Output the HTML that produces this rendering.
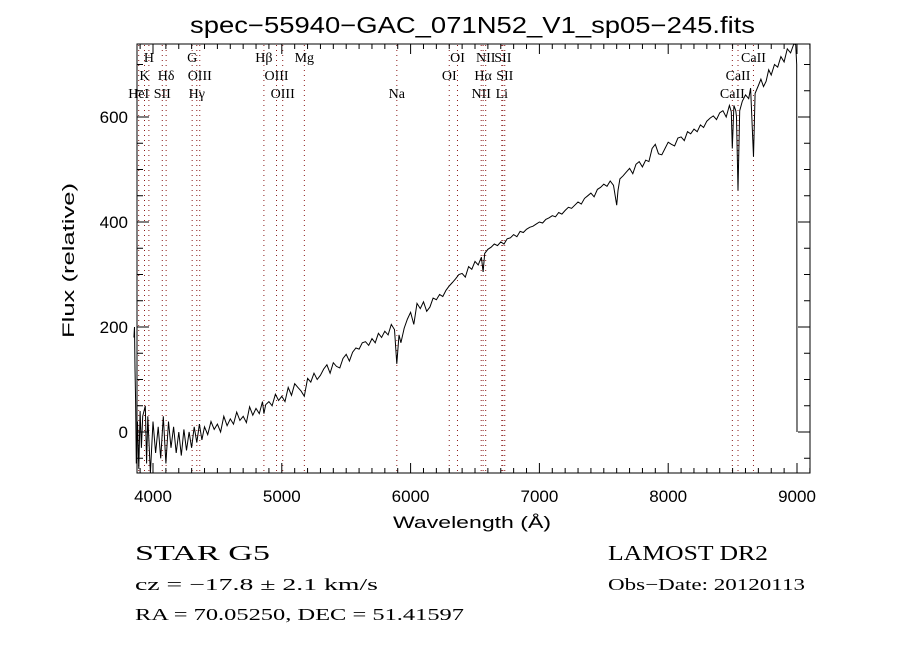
<!DOCTYPE html>
<html><head><meta charset="utf-8"><style>
body{margin:0;background:#fff;}
svg{display:block;}
.t{font-family:"Liberation Sans",sans-serif;fill:#000;}
.s{font-family:"Liberation Serif",serif;fill:#000;}
</style></head><body>
<svg id="chart" width="900" height="650" xmlns="http://www.w3.org/2000/svg">
<rect width="900" height="650" fill="#fff"/>
<text class="t" x="190" y="33" font-size="23" textLength="565" lengthAdjust="spacingAndGlyphs">spec−55940−GAC_071N52_V1_sp05−245.fits</text>
<g id="lines"></g>
<g id="labels"></g>
<path id="spec" fill="none" stroke="#000" stroke-width="1"/>
<rect x="137" y="44" width="673" height="429" fill="none" stroke="#000" stroke-width="1"/>
<g id="ticks" stroke="#000" stroke-width="1"></g>
<g id="ticklabels"></g>
<text class="t" x="393" y="528" font-size="17" textLength="158" lengthAdjust="spacingAndGlyphs">Wavelength (Å)</text>
<text class="t" transform="translate(74,338) rotate(-90)" font-size="17" textLength="155" lengthAdjust="spacingAndGlyphs">Flux (relative)</text>
<text class="s" x="135" y="560" font-size="21" textLength="135" lengthAdjust="spacingAndGlyphs">STAR    G5</text>
<text class="s" x="608" y="560" font-size="21" textLength="160" lengthAdjust="spacingAndGlyphs">LAMOST DR2</text>
<text class="s" x="135" y="590" font-size="17" textLength="243" lengthAdjust="spacingAndGlyphs">cz = −17.8 ± 2.1 km/s</text>
<text class="s" x="608" y="590" font-size="17" textLength="197" lengthAdjust="spacingAndGlyphs">Obs−Date: 20120113</text>
<text class="s" x="135" y="620" font-size="17" textLength="329" lengthAdjust="spacingAndGlyphs">RA =  70.05250, DEC =  51.41597</text>
</svg>
<script>
const wave=[3852,3856,3860,3865,3870,3880,3890,3900,3910,3920,3940,3950,3960,3980,4000,4020,4040,4060,4080,4100,4120,4140,4160,4180,4200,4220,4240,4260,4280,4300,4320,4340,4360,4380,
4400,4425,4450,4475,4500,4525,4550,4575,4600,4625,4650,4675,4700,4725,4750,4775,4800,4825,4850,4861,4875,4900,4925,4950,4975,5000,5025,5050,5075,5100,5125,5150,5175,5200,5225,5250,5275,5300,5325,5350,5375,5400,5425,5450,5475,5500,5525,5550,5575,5600,5625,5650,5675,5700,5725,5750,5775,5800,5825,5850,5875,5893,5910,5925,5950,5975,6000,6025,6050,6075,6100,6125,6150,6175,6200,6225,6250,6275,6300,6325,6350,6375,6400,6425,6450,6475,6500,6525,6550,6563,6575,6600,6625,6650,6675,6700,6725,6750,6775,6800,6825,6850,6875,6900,6925,6950,6975,7000,7025,7050,7075,7100,7125,7150,7175,7200,7225,7250,7275,7300,7325,7350,7375,7400,7425,7450,7475,7500,7525,7550,7575,7600,7610,7625,7650,7675,7700,7725,7750,7775,7800,7825,7850,7875,7900,7925,7950,7975,8000,8025,8050,8075,8100,8125,8150,8175,8200,8225,8250,8275,8300,8325,8350,8375,8400,8425,8450,8475,8490,8498,8510,8525,8530,8542,8555,8575,8600,8625,8640,8662,8675,8700,8720,8740,8760,8780,8800,8825,8850,8875,8900,8925,8950,8975,8990,8998,9000];
const flux=[180,200,120,60,-60,20,-70,40,-30,30,50,-60,30,-80,20,-40,10,-50,30,-60,20,-30,10,-40,0,-45,5,-35,0,-30,10,-20,15,-15,
10,-5,20,5,15,0,30,12,25,15,38,22,30,18,48,32,45,35,58,35,52,58,50,72,60,68,58,85,70,92,85,78,68,102,95,112,100,108,120,128,112,132,125,122,140,148,135,152,160,158,170,172,165,178,170,188,180,192,185,205,195,130,185,170,198,215,228,205,245,235,248,230,238,255,252,262,258,270,278,285,292,300,302,295,315,310,325,318,333,305,340,348,352,358,355,362,358,368,370,376,372,382,380,386,390,392,396,400,398,405,408,412,410,418,415,422,428,426,432,438,434,445,450,455,448,462,466,472,468,478,470,432,460,482,488,495,502,492,510,515,505,518,515,540,548,530,528,540,552,548,545,560,562,555,572,568,577,572,585,580,592,598,602,595,608,612,600,622,610,540,622,612,600,460,612,630,642,635,655,524,645,660,672,658,668,690,680,700,695,715,705,730,722,742,738,700,0];
const yTicks=[0,200,400,600];
const xTicks=[4000,5000,6000,7000,8000,9000];
const lineWave=[3889,3934,3968,4072,4102,4304,4340,4363,4861,4959,5007,5175,5893,6300,6364,6548,6563,6583,6708,6716,6731,8498,8542,8662];
const lineNames=["HeI","K","H","SII","Hδ","G","Hγ","OIII","Hβ","OIII","OIII","Mg","Na","OI","OI","NII","Hα","NII","Li","SII","SII","CaII","CaII","CaII"];
const lineRow=[3,2,1,3,2,1,3,2,1,2,3,1,3,2,1,3,2,1,3,1,2,3,2,1];
const X=w=>153+(w-4000)*0.1288;
const Y=f=>432-f*0.525;
const NS="http://www.w3.org/2000/svg";
function mk(tag,parent){const e=document.createElementNS(NS,tag);document.getElementById(parent).appendChild(e);return e;}
let d="";
for(let i=0;i<wave.length;i++){d+=(i?"L":"M")+X(wave[i]).toFixed(1)+" "+Math.min(473,Math.max(44,Y(flux[i]))).toFixed(1);}
document.getElementById("spec").setAttribute("d",d);
for(let i=0;i<lineWave.length;i++){
 const x=X(lineWave[i]);
 const l=mk("line","lines");
 
 
 l.setAttribute("x1",x);l.setAttribute("x2",x);l.setAttribute("y1",45);l.setAttribute("y2",472);
 l.setAttribute("stroke","#8b1a1a");l.setAttribute("stroke-width","1");l.setAttribute("stroke-dasharray","1 4");
 const t=mk("text","labels");
 
 
 t.setAttribute("class","s");t.setAttribute("x",x);t.setAttribute("y",62+(lineRow[i]-1)*18);
 t.setAttribute("font-size","14");t.setAttribute("text-anchor","middle");t.textContent=lineNames[i];
}
let td="";
for(let w=3900;w<=9100;w+=100){const x=X(w);const L=(w%1000===0)?10:5;td+=`M${x} 473V${473-L}M${x} 44V${44+L}`;}
for(let f=-50;f<=700;f+=50){const y=Y(f);const L=(f%200===0)?12:6;td+=`M137 ${y}H${137+L}M810 ${y}H${810-L}`;}
const tp=mk("path","ticks");


tp.setAttribute("d",td);
xTicks.forEach(w=>{const t=mk("text","ticklabels");
 
 
 t.setAttribute("class","t");t.setAttribute("x",X(w));t.setAttribute("y",502);t.setAttribute("font-size","17");t.setAttribute("text-anchor","middle");t.textContent=w;});
yTicks.forEach(f=>{const t=mk("text","ticklabels");
 
 
 t.setAttribute("class","t");t.setAttribute("x",128);t.setAttribute("y",Y(f)+6);t.setAttribute("font-size","17");t.setAttribute("text-anchor","end");t.textContent=f;});
</script>
</body></html>
